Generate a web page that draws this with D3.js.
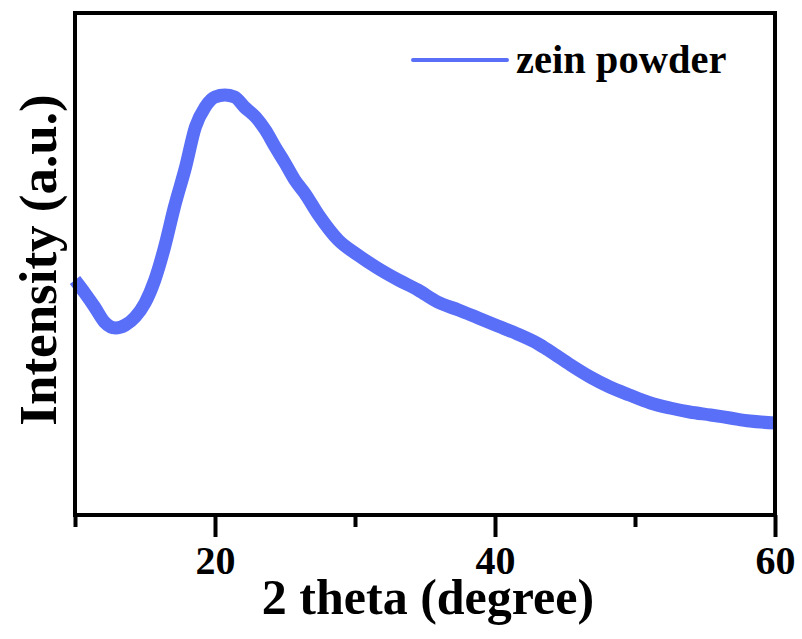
<!DOCTYPE html>
<html>
<head>
<meta charset="utf-8">
<script src="https://cdn.jsdelivr.net/npm/d3@7"></script>
<style>
  body { margin: 0; background: #fff; }
  text { font-family: "Liberation Serif", "Times New Roman", serif; font-weight: bold; fill: #000; }
</style>
</head>
<body>
<script>
var w = 802;
var h = 639;

// 2 theta (degree) and intensity (counts, arbitrary units)
var theta = [10.0, 10.7, 11.4, 12.1, 12.9, 13.6, 14.3, 15.0, 15.7, 16.4, 17.1, 17.9, 18.6, 19.3,
             20.0, 20.7, 21.4, 22.1, 22.9, 23.6, 24.3, 25.0, 25.7, 26.4, 27.4, 28.8, 30.2, 31.6,
             33.1, 34.5, 35.9, 37.4, 38.8, 40.2, 41.6, 43.1, 43.9, 45.4, 46.8, 48.2, 49.6, 51.1,
             52.5, 53.9, 55.4, 56.8, 58.2, 60.0];
var intensity = [2350, 2220, 2080, 1930, 1870, 1900, 1980, 2120, 2350, 2680, 3080, 3480, 3880, 4080,
                 4180, 4200, 4180, 4080, 3980, 3850, 3680, 3520, 3350, 3220, 3000, 2750, 2600, 2470,
                 2350, 2250, 2130, 2050, 1970, 1890, 1810, 1710, 1640, 1500, 1380, 1280, 1200, 1120,
                 1070, 1030, 1000, 970, 940, 920];

var majorTicks = [20, 40, 60];
var minorTicks = [10, 30, 50];
var seriesName = "zein powder";
var xTitle = "2 theta (degree)";
var yTitle = "Intensity (a.u.)";

var plotL = 75, plotR = 775, plotT = 13, plotB = 515;
var lineColor = "#5a6ff7";

var svg = d3.select('body')
            .append('svg')
            .attr('width', w)
            .attr('height', h);

var x = d3.scaleLinear()
          .domain([10, 60])
          .range([plotL, plotR]);

var y = d3.scaleLinear()
          .domain([0, 5020])
          .range([plotB, plotT]);

var data = theta.map(function(t, i) { return [t, intensity[i]]; });

var line = d3.line()
             .x(function(d) { return x(d[0]); })
             .y(function(d) { return y(d[1]); })
             .curve(d3.curveMonotoneX);

svg.append('path')
   .datum(data)
   .attr('fill', 'none')
   .attr('stroke', lineColor)
   .attr('stroke-width', 13)
   .attr('stroke-linejoin', 'round')
   .attr('d', line);

// minor ticks
var minorAxis = d3.axisBottom(x)
                  .tickValues(minorTicks)
                  .tickSize(12)
                  .tickSizeOuter(0)
                  .tickFormat('');
svg.append('g')
   .attr('transform', 'translate(0,' + plotB + ')')
   .call(minorAxis)
   .call(function(g) { g.select('.domain').remove(); })
   .selectAll('line').attr('stroke', '#000').attr('stroke-width', 4);

// major ticks
var xAxis = d3.axisBottom(x)
              .tickValues(majorTicks)
              .tickSize(22)
              .tickSizeOuter(0)
              .tickFormat(d3.format('d'));
var gx = svg.append('g')
            .attr('transform', 'translate(0,' + plotB + ')')
            .call(xAxis);
gx.select('.domain').remove();
gx.selectAll('line').attr('stroke', '#000').attr('stroke-width', 4);
gx.selectAll('text')
  .attr('y', 59)
  .attr('dy', null)
  .style('font-family', '"Liberation Serif", serif')
  .style('font-weight', 'bold')
  .style('font-size', '40px')
  .attr('fill', '#000');

// frame
svg.append('rect')
   .attr('x', plotL)
   .attr('y', plotT)
   .attr('width', plotR - plotL)
   .attr('height', plotB - plotT)
   .attr('fill', 'none')
   .attr('stroke', '#000')
   .attr('stroke-width', 4);

// axis titles
svg.append('text')
   .attr('x', 428)
   .attr('y', 614)
   .attr('text-anchor', 'middle')
   .style('font-size', '50px')
   .text(xTitle);

svg.append('text')
   .attr('transform', 'translate(56,260) rotate(-90)')
   .attr('text-anchor', 'middle')
   .style('font-size', '53px')
   .text(yTitle);

// legend
var legend = svg.append('g');
legend.append('line')
      .attr('x1', 413).attr('x2', 507)
      .attr('y1', 60).attr('y2', 60)
      .attr('stroke', lineColor)
      .attr('stroke-width', 4)
      .attr('stroke-linecap', 'round');
legend.append('text')
      .attr('x', 516)
      .attr('y', 73)
      .style('font-size', '40.5px')
      .text(seriesName);
</script>
</body>
</html>
